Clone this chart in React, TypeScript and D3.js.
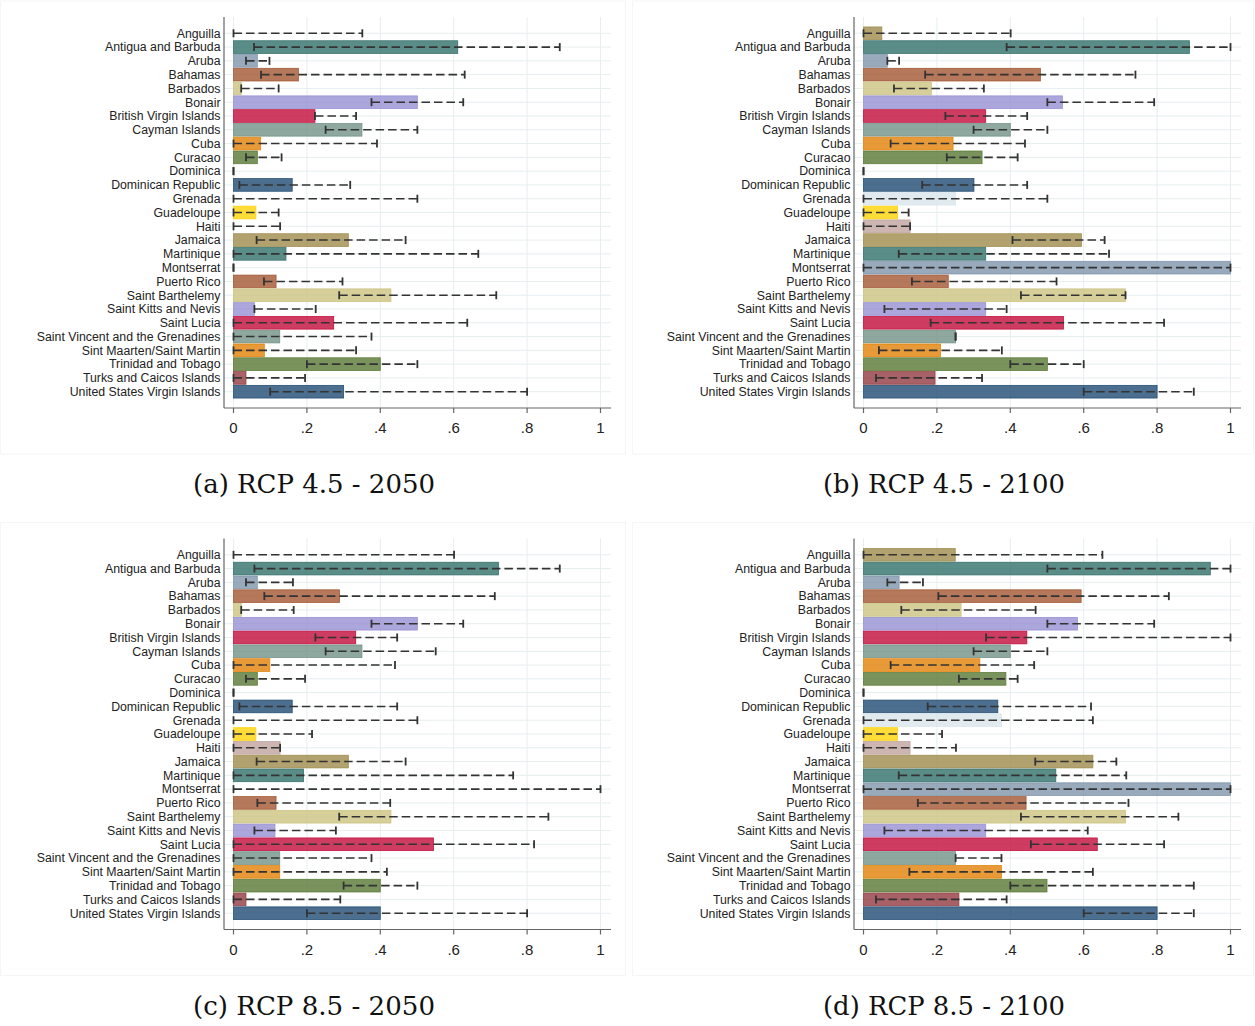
import React from "react";
import * as d3 from "d3";

const categories = [
  "Anguilla", "Antigua and Barbuda", "Aruba", "Bahamas", "Barbados", "Bonair",
  "British Virgin Islands", "Cayman Islands", "Cuba", "Curacao", "Dominica",
  "Dominican Republic", "Grenada", "Guadeloupe", "Haiti", "Jamaica", "Martinique",
  "Montserrat", "Puerto Rico", "Saint Barthelemy", "Saint Kitts and Nevis",
  "Saint Lucia", "Saint Vincent and the Grenadines", "Sint Maarten/Saint Martin",
  "Trinidad and Tobago", "Turks and Caicos Islands", "United States Virgin Islands",
];

// (a) RCP 4.5 - 2050
const a_mean = [0, 0.611, 0.065, 0.177, 0.021, 0.501, 0.222, 0.35, 0.074, 0.065, 0, 0.16, 0, 0.061, 0, 0.313, 0.143, 0, 0.116, 0.429, 0.057, 0.273, 0.126, 0.084, 0.4, 0.034, 0.3];
const a_lo = [0, 0.056, 0.034, 0.075, 0.021, 0.376, 0.222, 0.251, 0, 0.034, 0, 0.016, 0, 0, 0, 0.063, 0, 0, 0.083, 0.288, 0.057, 0, 0, 0, 0.2, 0, 0.1];
const a_hi = [0.351, 0.889, 0.098, 0.63, 0.123, 0.626, 0.334, 0.501, 0.391, 0.131, 0, 0.318, 0.501, 0.123, 0.127, 0.469, 0.667, 0, 0.297, 0.716, 0.224, 0.637, 0.376, 0.334, 0.501, 0.195, 0.8];

// (b) RCP 4.5 - 2100
const b_mean = [0.05, 0.888, 0.065, 0.482, 0.185, 0.542, 0.333, 0.4, 0.244, 0.323, 0, 0.301, 0.251, 0.093, 0.127, 0.594, 0.333, 1.0, 0.231, 0.714, 0.333, 0.545, 0.251, 0.21, 0.501, 0.195, 0.8];
const b_lo = [0, 0.39, 0.065, 0.168, 0.083, 0.501, 0.223, 0.3, 0.074, 0.227, 0, 0.16, 0, 0, 0, 0.406, 0.096, 0, 0.132, 0.429, 0.057, 0.183, 0.251, 0.042, 0.4, 0.034, 0.6];
const b_hi = [0.401, 1.0, 0.097, 0.741, 0.328, 0.792, 0.446, 0.501, 0.44, 0.42, 0, 0.446, 0.501, 0.123, 0.127, 0.657, 0.669, 1.0, 0.526, 0.714, 0.39, 0.819, 0.251, 0.377, 0.6, 0.323, 0.9];

// (c) RCP 8.5 - 2050
const c_mean = [0, 0.722, 0.065, 0.289, 0.021, 0.501, 0.333, 0.35, 0.099, 0.065, 0, 0.16, 0, 0.061, 0.127, 0.313, 0.191, 0, 0.116, 0.429, 0.113, 0.545, 0.126, 0.126, 0.4, 0.034, 0.4];
const c_lo = [0, 0.057, 0.034, 0.084, 0.021, 0.376, 0.223, 0.251, 0, 0.034, 0, 0.016, 0, 0, 0, 0.063, 0, 0, 0.065, 0.288, 0.057, 0, 0, 0, 0.3, 0, 0.2];
const c_hi = [0.601, 0.889, 0.162, 0.712, 0.164, 0.626, 0.446, 0.551, 0.44, 0.195, 0, 0.446, 0.501, 0.214, 0.127, 0.469, 0.762, 1.0, 0.427, 0.858, 0.279, 0.819, 0.376, 0.418, 0.501, 0.291, 0.8];

// (d) RCP 8.5 - 2100
const d_mean = [0.25, 0.945, 0.097, 0.593, 0.266, 0.583, 0.445, 0.4, 0.317, 0.388, 0, 0.366, 0.376, 0.093, 0.127, 0.625, 0.524, 1.0, 0.443, 0.714, 0.333, 0.637, 0.251, 0.376, 0.5, 0.26, 0.8];
const d_lo = [0, 0.501, 0.065, 0.204, 0.103, 0.501, 0.334, 0.3, 0.074, 0.26, 0, 0.175, 0, 0, 0, 0.468, 0.096, 0, 0.148, 0.429, 0.057, 0.456, 0.251, 0.125, 0.4, 0.034, 0.6];
const d_hi = [0.651, 1.0, 0.162, 0.832, 0.469, 0.792, 1.0, 0.501, 0.465, 0.42, 0, 0.62, 0.625, 0.214, 0.252, 0.689, 0.716, 1.0, 0.722, 0.858, 0.611, 0.819, 0.376, 0.625, 0.9, 0.39, 0.9];

const xTicks = [0, 0.2, 0.4, 0.6, 0.8, 1];
const xTickLabels = ["0", ".2", ".4", ".6", ".8", "1"];
const captions = ["(a) RCP 4.5 - 2050", "(b) RCP 4.5 - 2100", "(c) RCP 8.5 - 2050", "(d) RCP 8.5 - 2100"];

// Stata s2color cycle
const palette = ["#1a476f", "#90353b", "#55752f", "#e37e00", "#6e8e84", "#c10534", "#938dd2", "#cac27e", "#a0522d", "#7b92a8", "#2d6d66", "#9c8847", "#bfa19c", "#ffd200", "#d9e6eb"];

const panels = [
  { mean: a_mean, lo: a_lo, hi: a_hi, caption: captions[0], dx: 0, dy: 0, fx: 0.5, fw: 625 },
  { mean: b_mean, lo: b_lo, hi: b_hi, caption: captions[1], dx: 630, dy: 0, fx: 2.5, fw: 621 },
  { mean: c_mean, lo: c_lo, hi: c_hi, caption: captions[2], dx: 0, dy: 521.5, fx: 0.5, fw: 625 },
  { mean: d_mean, lo: d_lo, hi: d_hi, caption: captions[3], dx: 630, dy: 521.5, fx: 2.5, fw: 621 },
];

const AXIS_X = 224;
const TOP = 17;
const BOTTOM = 408;
const RIGHT = 611;

const x = d3.scaleLinear().domain([0, 1]).range([233.5, 600.5]);
const y = d3.scaleBand<string>().domain(categories).range([26.4, 398.6]).padding(0);
const barH = y.bandwidth() * 0.92;

const sans = "'Liberation Sans', Arial, sans-serif";

function Panel({ p }: { p: typeof panels[number] }) {
  const n = categories.length;
  return (
    <g transform={`translate(${p.dx},${p.dy})`}>
      <rect x={p.fx} y={1} width={p.fw} height={453} fill="#fff" stroke="#f4f5f6" />
      {/* grid */}
      {categories.map((c) => (
        <line key={"h" + c} x1={AXIS_X} x2={RIGHT} y1={y(c)! + y.bandwidth() / 2} y2={y(c)! + y.bandwidth() / 2} stroke="#e6eef0" strokeWidth={1} />
      ))}
      {xTicks.map((t) => (
        <line key={"v" + t} x1={x(t)} x2={x(t)} y1={TOP} y2={BOTTOM} stroke="#e6eef0" strokeWidth={1} />
      ))}
      {/* bars */}
      {categories.map((c, i) => {
        const col = palette[(n - 1 - i) % palette.length];
        const w = x(p.mean[i]) - x(0);
        if (w <= 0) return null;
        return (
          <rect key={"b" + c} x={x(0)} y={y(c)! + (y.bandwidth() - barH) / 2} width={w} height={barH}
            fill={col} fillOpacity={0.78} stroke={col} strokeOpacity={0.9} strokeWidth={0.8} />
        );
      })}
      {/* error bars */}
      {categories.map((c, i) => {
        const cy = y(c)! + y.bandwidth() / 2;
        const x1 = x(p.lo[i]);
        const x2 = x(p.hi[i]);
        return (
          <g key={"e" + c} stroke="#333" >
            {x2 > x1 && <line x1={x1} x2={x2} y1={cy} y2={cy} strokeWidth={1.6} strokeDasharray="8.5,4" />}
            <line x1={x1} x2={x1} y1={cy - 4} y2={cy + 4} strokeWidth={1.8} />
            <line x1={x2} x2={x2} y1={cy - 4} y2={cy + 4} strokeWidth={1.8} />
          </g>
        );
      })}
      {/* axes */}
      <line x1={AXIS_X} x2={AXIS_X} y1={TOP} y2={BOTTOM} stroke="#666" strokeWidth={1.2} />
      <line x1={AXIS_X} x2={RIGHT} y1={BOTTOM} y2={BOTTOM} stroke="#666" strokeWidth={1.2} />
      {categories.map((c) => (
        <text key={"l" + c} x={AXIS_X - 3.5} y={y(c)! + y.bandwidth() / 2} dy="0.35em" textAnchor="end" fontFamily={sans} fontSize={12.3} fill="#222">{c}</text>
      ))}
      {xTicks.map((t, k) => (
        <g key={"t" + t}>
          <line x1={x(t)} x2={x(t)} y1={BOTTOM} y2={BOTTOM + 5} stroke="#666" strokeWidth={1.2} />
          <text x={x(t)} y={BOTTOM + 20} dy="0.35em" textAnchor="middle" fontFamily={sans} fontSize={15} fill="#222">{xTickLabels[k]}</text>
        </g>
      ))}
      <text x={314} y={493} textAnchor="middle" textLength={242} lengthAdjust="spacingAndGlyphs"
        fontFamily="'DejaVu Serif','Liberation Serif',serif" fontSize={26.5} fill="#111">{p.caption}</text>
    </g>
  );
}

export default function App() {
  return (
    <svg width={1255} height={1026} style={{ position: "absolute", left: 0, top: 0, background: "#fff" }}>
      <rect width={1255} height={1026} fill="#fff" />
      {panels.map((p, i) => <Panel key={i} p={p} />)}
    </svg>
  );
}
